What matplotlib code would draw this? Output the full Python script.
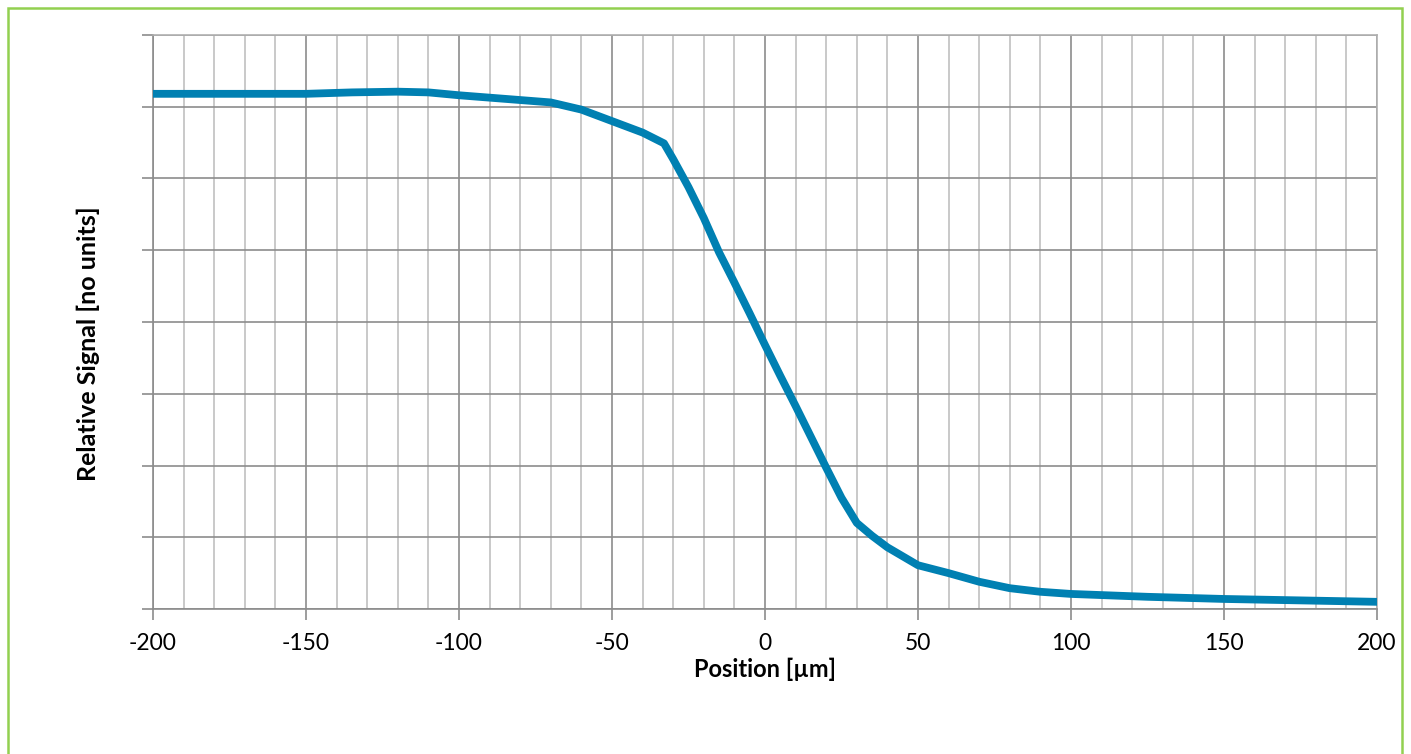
import matplotlib
matplotlib.use("Agg")
import matplotlib.pyplot as plt
from matplotlib.patches import Rectangle

# Data
position = [-200, -175, -150, -135, -120, -110, -100, -85, -70, -60, -50, -40, -33,
            -30, -25, -20, -15, -10, -5, 0, 5, 10, 15, 20, 25, 30, 35, 40, 50, 60,
            70, 80, 90, 100, 125, 150, 175, 200]
signal = [7.18, 7.18, 7.18, 7.20, 7.21, 7.20, 7.16, 7.11, 7.06, 6.96, 6.80, 6.64, 6.49,
          6.27, 5.88, 5.45, 4.97, 4.55, 4.12, 3.68, 3.25, 2.83, 2.40, 1.97, 1.55, 1.20,
          1.02, 0.86, 0.61, 0.50, 0.38, 0.29, 0.24, 0.21, 0.17, 0.14, 0.12, 0.10]
x_ticks = [-200, -150, -100, -50, 0, 50, 100, 150, 200]
x_minor = list(range(-200, 201, 10))
y_ticks = list(range(0, 9))

plt.rcParams['font.family'] = ['Lato', 'DejaVu Sans']
plt.rcParams['axes.unicode_minus'] = False

fig = plt.figure(figsize=(14.11, 7.54), dpi=100)
ax = fig.add_axes([0.1084, 0.1923, 0.8675, 0.7613])

# green frame around chart
fig.patches.append(Rectangle((8 / 1411, -0.05), (1402 - 8) / 1411, 1.05 - 8 / 754,
                             transform=fig.transFigure, fill=False,
                             edgecolor='#92D050', linewidth=1.8, zorder=0))

ax.set_xlim(-200, 200)
ax.set_ylim(0, 8)
ax.set_xticks(x_ticks)
ax.set_xticks(x_minor, minor=True)
ax.set_yticks(y_ticks)
ax.set_yticklabels([])

ax.grid(which='minor', axis='x', color='#c0c0c0', linewidth=1.2)
ax.grid(which='major', axis='x', color='#8c8c8c', linewidth=1.2)
ax.grid(which='major', axis='y', color='#8c8c8c', linewidth=1.2)
ax.set_axisbelow(True)

ax.tick_params(axis='x', which='major', length=8, width=1.2, color='#8c8c8c',
               labelsize=16.5, pad=9)
ax.tick_params(axis='x', which='minor', length=0)
ax.tick_params(axis='y', which='major', length=8, width=1.2, color='#8c8c8c')
for s in ax.spines.values():
    s.set_color('#8c8c8c')
    s.set_linewidth(1.2)
ax.spines['top'].set_color('#b0b0b0')
ax.spines['right'].set_color('#b0b0b0')

ax.plot(position, signal, color='#0080B2', linewidth=5.6,
        solid_capstyle='round', solid_joinstyle='round', zorder=3)

ax.set_xlabel('Position [µm]', fontsize=17, fontweight='bold', labelpad=3)
ax.set_ylabel('Relative Signal [no units]', fontsize=18, fontweight='bold')
ax.yaxis.set_label_coords(-0.043, 0.463)

fig.savefig('out.png', dpi=100)
